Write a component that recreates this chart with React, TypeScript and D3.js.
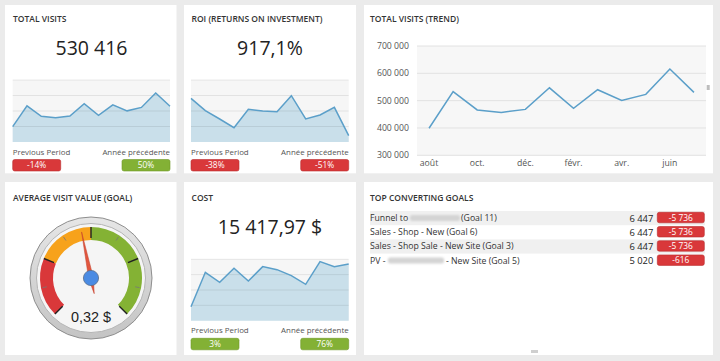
import React from "react";
import * as d3 from "d3";

// monthly data, août -> juil.
const months = ["août", "sept.", "oct.", "nov.", "déc.", "janv.", "févr.", "mars", "avr.", "mai", "juin", "juil."];
const visits = [399000, 533000, 466000, 457000, 468000, 547000, 472000, 540000, 501000, 523000, 616000, 530416];
const roiTrend = [1363, 1204, 1097, 985, 1222, 1200, 1191, 1398, 1097, 1148, 1247, 882];
const costTrend = [4565, 15761, 12500, 17065, 12935, 17609, 16630, 14674, 11848, 19239, 17609, 18478];
const visitTicks = [300000, 400000, 500000, 600000, 700000];

const totalVisits = 530416;
const roiValue = 917.1;
const costValue = 15417.97;
const avgVisitValue = 0.32;
const gaugeMax = 0.7;

const visitsChange = [-14, 50];
const roiChange = [-38, -51];
const costChange = [3, 76];

const goalPrefix = ["Funnel to", "Sales - Shop - New (Goal 6)", "Sales - Shop Sale - New Site (Goal 3)", "PV -"];
const goalSuffix = ["(Goal 11)", "", "", "- New Site (Goal 5)"];
const goalConversions = [6447, 6447, 6447, 5020];
const goalDelta = [-5736, -5736, -5736, -616];

const fr = d3.formatLocale({decimal: ",", thousands: "\u00a0", grouping: [3], currency: ["", "\u00a0$"], minus: "-"});
const fmtInt = fr.format(",d");
const fmtMoney = fr.format("$,.2f");
const fmtPct = fr.format(",.1f");

const FONT = "'Open Sans', sans-serif";
const RED = "#d9383a";
const GREEN = "#83b135";

function Panel({x, y, w, h}) {
    return <rect x={x} y={y} width={w} height={h} fill="#fff"/>;
}

function Title({x, y, text}) {
    return <text x={x} y={y} fontFamily={FONT} fontSize={8.5} fontWeight={600} fill="#333">{text}</text>;
}

function Badge({x, y, w, h, value, suffix}) {
    const color = value < 0 ? RED : GREEN;
    return (
        <g>
            <rect x={x} y={y} width={w} height={h} rx={2} fill={color}
                  stroke={value < 0 ? "#b92b2d" : "#6e9827"} strokeWidth={0.6}/>
            <text x={x + w / 2} y={y + h / 2 + 3} textAnchor="middle" fontFamily={FONT}
                  fontSize={8.4} fill="#fff">{fmtInt(value) + suffix}</text>
        </g>
    );
}

function Spark({x0, x1, y0, y1, data, domain}) {
    const xs = d3.scalePoint().domain(d3.range(data.length)).range([x0, x1]);
    const ys = d3.scaleLinear().domain(domain).range([y1, y0]);
    const area = d3.area().x((d, i) => xs(i)).y0(y1).y1(d => ys(d));
    const line = d3.line().x((d, i) => xs(i)).y(d => ys(d));
    const grid = ys.ticks(4).filter(t => t > domain[0]);
    return (
        <g>
            <rect x={x0} y={y0} width={x1 - x0} height={y1 - y0} fill="#f6f6f6"/>
            <path d={area(data)} fill="#c9dfea"/>
            {grid.map(t => (
                <line key={t} x1={x0} x2={x1} y1={ys(t)} y2={ys(t)} stroke="#000" strokeOpacity={0.08}/>
            ))}
            <path d={line(data)} fill="none" stroke="#5b9fc9" strokeWidth={1.5}/>
        </g>
    );
}

function KpiFooter({x0, x1, y, change}) {
    return (
        <g fontFamily={FONT} fontSize={7.9} fill="#555">
            <text x={x0} y={y}>Previous Period</text>
            <text x={x1} y={y} textAnchor="end">Année précédente</text>
            <Badge x={x0} y={y + 5} w={48} h={11.5} value={change[0]} suffix="%"/>
            <Badge x={x1 - 48} y={y + 5} w={48} h={11.5} value={change[1]} suffix="%"/>
        </g>
    );
}

function Trend() {
    const x = d3.scaleBand().domain(months).range([417, 706]);
    const y = d3.scaleLinear().domain([300000, 700000]).range([155.3, 46]);
    const line = d3.line().x((d, i) => x(months[i]) + x.bandwidth() / 2).y(d => y(d));
    return (
        <g fontFamily={FONT} fontSize={8.7} fill="#555">
            <rect x={417} y={46} width={289} height={109.3} fill="#f7f7f7"/>
            {visitTicks.map(t => (
                <g key={t}>
                    <line x1={417} x2={706} y1={y(t)} y2={y(t)} stroke="#e2e2e2" strokeWidth={1}/>
                    <text x={409} y={y(t) + 3} textAnchor="end">{fmtInt(t)}</text>
                </g>
            ))}
            {months.map((m, i) => i % 2 === 0 && (
                <text key={m} x={x(m) + x.bandwidth() / 2} y={165.7} textAnchor="middle">{m}</text>
            ))}
            <path d={line(visits)} fill="none" stroke="#5b9fc9" strokeWidth={1.5}/>
        </g>
    );
}

function Gauge({cx, cy}) {
    const angle = d3.scaleLinear().domain([0, gaugeMax]).range([-135, 135]);
    const rad = d => (d * Math.PI) / 180;
    const band = d3.arc().innerRadius(38).outerRadius(51);
    const bands = [[0, 0.25, RED], [0.25, 0.5, "#f7a21b"], [0.5, 1, "#84b234"]];
    const pt = (a, r) => [Math.sin(rad(a)) * r, -Math.cos(rad(a)) * r];
    const a = angle(avgVisitValue);
    const tip = pt(a, 47);
    const tail = pt(a, -16);
    const l = pt(a - 90, 2.4);
    const r = pt(a + 90, 2.4);
    return (
        <g transform={`translate(${cx},${cy})`}>
            <defs>
                <linearGradient id="ring" x1="0" y1="0" x2="0" y2="1">
                    <stop offset="0" stopColor="#e6e6e6"/>
                    <stop offset="1" stopColor="#c4c4c4"/>
                </linearGradient>
            </defs>
            <circle r={61} fill="url(#ring)" stroke="#8e8e8e" strokeWidth={1}/>
            <circle r={54.5} fill="#f5f5f5" stroke="#b5b5b5" strokeWidth={1}/>
            {bands.map(([f0, f1, c]) => (
                <path key={c} d={band({startAngle: rad(-135 + 270 * f0), endAngle: rad(-135 + 270 * f1)})} fill={c}/>
            ))}
            {[0, 0.25, 0.5, 0.75, 1].map(f => {
                const p0 = pt(-135 + 270 * f, 40), p1 = pt(-135 + 270 * f, 51);
                return <line key={f} x1={p0[0]} y1={p0[1]} x2={p1[0]} y2={p1[1]} stroke="#222" strokeWidth={1.4}/>;
            })}
            {[0.125, 0.375, 0.625, 0.875].map(f => {
                const p0 = pt(-135 + 270 * f, 45), p1 = pt(-135 + 270 * f, 49.5);
                return <line key={f} x1={p0[0]} y1={p0[1]} x2={p1[0]} y2={p1[1]} stroke="#777" strokeWidth={0.8}/>;
            })}
            <path d={`M${tip}L${l}L${tail}L${r}Z`} fill="#e2573f" stroke="#c2412c" strokeWidth={0.5}/>
            <circle r={7.6} fill="#4a8be3" stroke="#5b6f8c" strokeWidth={0.8}/>
            <text y={43.7} textAnchor="middle" fontFamily="'Liberation Sans', Arial, sans-serif"
                  fontSize={14.4} fill="#222">{fr.format(",.2f")(avgVisitValue) + "\u00a0$"}</text>
        </g>
    );
}

function Goals() {
    const rowH = 14.2;
    const blurX = [410, null, null, 388];
    const blurW = [50, 0, 0, 56];
    const suffixX = [461, 0, 0, 446];
    return (
        <g fontFamily={FONT}>
            <defs>
                <filter id="blur" x="-20%" y="-50%" width="140%" height="200%">
                    <feGaussianBlur stdDeviation={1.3}/>
                </filter>
            </defs>
            {goalPrefix.map((name, i) => {
                const top = 211 + i * rowH;
                return (
                    <g key={i}>
                        {i % 2 === 0 && <rect x={370} y={top} width={335} height={rowH} fill="#f0f0f0"/>}
                        <text x={370} y={top + 10} fontSize={8.7} fill="#333">{name}</text>
                        {blurX[i] !== null && (
                            <rect x={blurX[i]} y={top + 4} width={blurW[i]} height={6} rx={2}
                                  fill="#d4d4d4" filter="url(#blur)"/>
                        )}
                        {goalSuffix[i] && <text x={suffixX[i]} y={top + 10} fontSize={8.7} fill="#333">{goalSuffix[i]}</text>}
                        <text x={653.3} y={top + 10.5} textAnchor="end" fontSize={9.4} fill="#222">{fmtInt(goalConversions[i])}</text>
                        <Badge x={657.3} y={top + 1.3} w={47} h={10.5} value={goalDelta[i]} suffix=""/>
                    </g>
                );
            })}
        </g>
    );
}

export default function App() {
    return (
        <svg width={720} height={361} style={{position: "absolute", left: 0, top: 0}}>
            <rect width={720} height={361} fill="#ebebeb"/>
            <Panel x={5} y={5} w={171.5} h={168.3}/>
            <Panel x={184} y={5} w={172} h={168.3}/>
            <Panel x={364} y={5} w={349} h={168.3}/>
            <Panel x={5} y={182} w={171.5} h={173}/>
            <Panel x={184} y={182} w={172} h={173}/>
            <Panel x={364} y={182} w={349} h={173}/>

            {/* total visits */}
            <Title x={13} y={22.3} text="TOTAL VISITS"/>
            <text x={91.5} y={55} textAnchor="middle" fontFamily={FONT} fontSize={19.5} fill="#222">{fmtInt(totalVisits)}</text>
            <Spark x0={12.7} x1={170} y0={80} y1={142} data={visits} domain={[300000, 700000]}/>
            <KpiFooter x0={12.7} x1={170} y={154.5} change={visitsChange}/>

            {/* roi */}
            <Title x={191.5} y={22.3} text="ROI (RETURNS ON INVESTMENT)"/>
            <text x={270} y={55} textAnchor="middle" fontFamily={FONT} fontSize={19.5} fill="#222">{fmtPct(roiValue) + "%"}</text>
            <Spark x0={191} x1={348.7} y0={80} y1={142} data={roiTrend} domain={[800, 1600]}/>
            <KpiFooter x0={191} x1={348.7} y={154.5} change={roiChange}/>

            {/* trend */}
            <Title x={370} y={22.3} text="TOTAL VISITS (TREND)"/>
            <Trend/>
            <rect x={706.7} y={85} width={3} height={5} fill="#bdbdbd"/>

            {/* gauge */}
            <Title x={13} y={201} text="AVERAGE VISIT VALUE (GOAL)"/>
            <Gauge cx={91} cy={278}/>

            {/* cost */}
            <Title x={191.5} y={200.7} text="COST"/>
            <text x={270} y={234.3} textAnchor="middle" fontFamily={FONT} fontSize={19.5} fill="#222">{fmtMoney(costValue)}</text>
            <Spark x0={191} x1={348.7} y0={259.3} y1={320.7} data={costTrend} domain={[0, 20000]}/>
            <KpiFooter x0={191} x1={348.7} y={333.3} change={costChange}/>

            {/* goals */}
            <Title x={370} y={200.7} text="TOP CONVERTING GOALS"/>
            <Goals/>
            <rect x={531} y={350} width={7} height={3} fill="#cfcfcf"/>
        </svg>
    );
}
